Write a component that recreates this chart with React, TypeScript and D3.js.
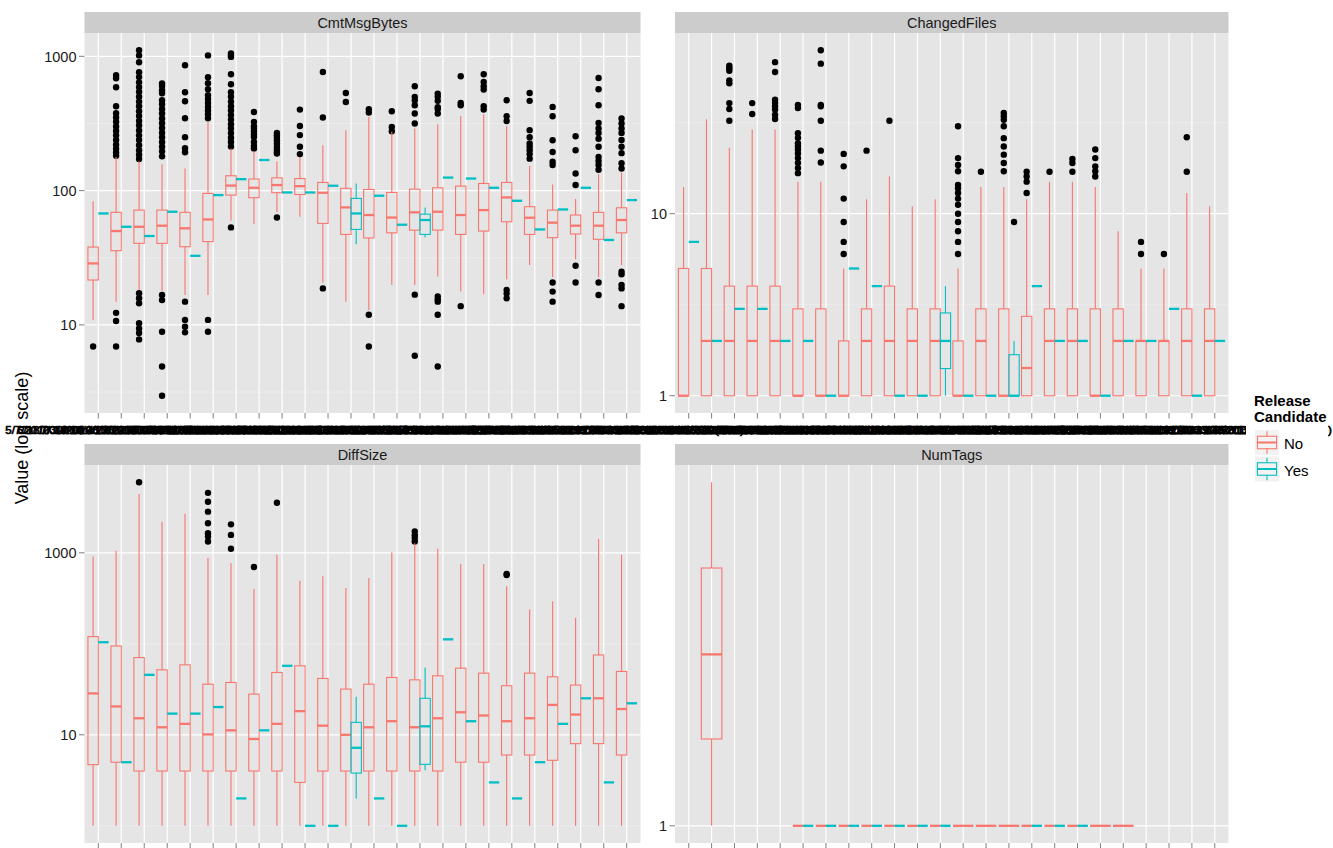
import React from "react";
import * as d3 from "d3";

// x categories (release windows); the labels overlap heavily in the original
const categories = [
  "5/7/2010 14:02 - 6/18/2010 09:41:37",
  "6/18/2010 09:41:37 - 7/30/2010 17:20:05",
  "7/30/2010 17:20:05 - 9/14/2010 11:08:52",
  "9/14/2010 11:08:52 - 10/29/2010 16:45:19",
  "10/29/2010 16:45:19 - 12/10/2010 10:12:44",
  "12/10/2010 10:12:44 - 1/27/2011 15:33:08",
  "1/27/2011 15:33:08 - 3/11/2011 12:01:56",
  "3/11/2011 12:01:56 - 4/22/2011 18:27:30",
  "4/22/2011 18:27:30 - 6/3/2011 09:54:13",
  "6/3/2011 09:54:13 - 7/19/2011 14:16:47",
  "7/19/2011 14:16:47 - 8/30/2011 11:39:02",
  "8/30/2011 11:39:02 - 10/13/2011 16:05:28",
  "10/13/2011 16:05:28 - 11/24/2011 10:48:55",
  "11/24/2011 10:48:55 - 1/10/2012 13:22:41",
  "1/10/2012 13:22:41 - 2/21/2012 17:50:09",
  "2/21/2012 17:50:09 - 4/5/2012 08:36:24",
  "4/5/2012 08:36:24 - 5/17/2012 15:14:58",
  "5/17/2012 15:14:58 - 6/28/2012 12:43:17",
  "6/28/2012 12:43:17 - 8/9/2012 19:07:33",
  "8/9/2012 19:07:33 - 9/25/2012 10:29:46",
  "9/25/2012 10:29:46 - 11/6/2012 14:58:12",
  "11/6/2012 14:58:12 - 12/18/2012 11:31:40",
  "12/18/2012 11:31:40 - 2/5/2013 16:19:03",
  "2/5/2013 16:19:03 - 3/28/2013 13:46:25 (final)",
];

// box stats are [lower whisker, Q1, median, Q3, upper whisker]; a single number = one value
const cmtNo = [
  [10.9, 21.6, 28.7, 38, 83.5], [14.9, 35.7, 50, 68.9, 178], [18.2, 40.5, 53.8, 71.6, 165],
  [18, 40.5, 54.8, 71.6, 157], [16.7, 38.2, 52.4, 68.9, 146], [16.7, 41.7, 61, 95.3, 325],
  [59.7, 92.6, 109, 129, 206], [56.4, 88.5, 105, 122, 197], [68.9, 96.5, 110, 124.5, 165],
  [63.8, 93.5, 108, 123, 178], [20.7, 57, 96.4, 115, 218], [14.9, 47.2, 75, 104, 282],
  [12.9, 44.4, 65.8, 102, 354], [19.8, 48.5, 63, 96.9, 274], [19.8, 50.8, 68.9, 102.6, 290],
  [22.9, 50.8, 69.6, 105, 312], [17.7, 47.2, 65.8, 108, 360], [16.9, 50, 71.6, 113, 368],
  [21.9, 58.6, 89, 115, 302], [27.9, 47.2, 62.8, 75.9, 153], [22.6, 44.6, 57.7, 71.6, 111],
  [30.8, 47.5, 54.8, 65.8, 86.5], [22.6, 43.4, 54.8, 68.9, 133], [27.9, 48.5, 60.4, 74.5, 136],
];
const cmtYes = [
  67.6, 53.8, 45.9, 69.6, 32.7, 92.6, 121.7, 169, 96.9, 96.9, 108.7,
  [39.8, 51.4, 67.6, 87.5, 113], 91.6, 55.7, [44.9, 47.2, 60.4, 66.8, 75],
  125, 123, 105, 84, 51.4, 72.4, 105, 42.9, 85,
];
const cmtNoOut = [
  [6.9],
  [723, 686, 588, 425, 377, 350, 325, 300, 278, 258, 238, 220, 205, 192, 182, 12.3, 10.7, 6.9],
  [1109, 1016, 902, 760, 700, 640, 590, 545, 500, 460, 425, 390, 360, 330, 305, 280, 258, 238, 218, 200, 185, 172, 17.2, 15.8, 14.5, 10.3, 9.4, 8.7, 7.8],
  [627, 600, 560, 531, 471, 440, 405, 375, 345, 318, 293, 270, 250, 230, 212, 196, 180, 16.7, 15.3, 8.9, 4.9, 2.97],
  [857, 540, 463, 346, 250, 207, 193, 14.9, 10.9, 9.7, 8.8],
  [1016, 698, 630, 569, 513, 480, 450, 420, 395, 370, 346, 10.9, 8.9],
  [1052, 1016, 990, 735, 619, 540, 500, 460, 425, 395, 365, 338, 312, 290, 268, 248, 230, 213, 53.2],
  [385, 325, 302, 290, 276, 262, 251, 230, 215, 206],
  [269, 258, 248, 236, 224, 212, 202, 195, 189, 63],
  [401, 303, 259, 212, 187],
  [765, 350, 18.7],
  [533, 457],
  [403, 381, 11.9, 6.9],
  [390, 298, 277],
  [598, 499, 470, 432, 375, 316, 16.8, 5.9],
  [527, 499, 466, 418, 406, 375, 16.3, 15.5, 14.9, 11.9, 4.9],
  [710, 450, 432, 13.8],
  [735, 645, 598, 565, 425, 401],
  [471, 358, 330, 18.2, 17.1, 15.8],
  [533, 466, 282, 250, 224, 212, 200, 187, 173],
  [420, 358, 237, 194, 164, 155, 20.7, 17.7, 14.9],
  [254, 200, 134, 110, 27.6, 20.7],
  [690, 569, 432, 319, 290, 269, 243, 212, 178, 166, 155, 143, 20.7, 16.7],
  [344, 316, 290, 269, 238, 212, 190, 160, 146, 24.9, 23.8, 19.8, 18.7, 13.8],
];
const cmtYesOut = categories.map(() => []);

const filesNo = [
  [1, 1, 1, 5, 14], [1, 1, 2, 5, 33], [1, 1, 2, 4, 23], [1, 1, 2, 4, 29], [1, 1, 2, 4, 29],
  [1, 1, 1, 3, 15], [1, 1, 1, 3, 15], [1, 1, 1, 2, 5], [1, 1, 2, 3, 12], [1, 1, 2, 4, 16],
  [1, 1, 2, 3, 11], [1, 1, 2, 3, 12], [1, 1, 1, 2, 5], [1, 1, 2, 3, 14], [1, 1, 1, 3, 14],
  [1, 1, 1.42, 2.73, 12], [1, 1, 2, 3, 15], [1, 1, 2, 3, 15], [1, 1, 1, 3, 14], [1, 1, 2, 3, 8],
  [1, 1, 2, 2, 5], [1, 1, 2, 2, 5], [1, 1, 2, 3, 13], [1, 1, 2, 3, 11],
];
const filesYes = [
  7, 2, 3, 3, 2, 2, 1, 5, 4, 1, 1, [1, 1.41, 2, 2.85, 4], 1, 1, [1, 1, 1, 1.68, 2],
  4, 2, 2, 1, 2, 2, 3, 1, 2,
];
const filesNoOut = [
  [], [], [65, 63, 61, 54, 52, 40.5, 37.6, 32.4], [40.5, 35.3],
  [68, 60, 42.3, 40.5, 38.9, 37.3, 35, 33.1],
  [39.6, 38.1, 27.7, 26.1, 24.4, 23.4, 22.5, 21.4, 20.2, 19, 17.8, 16.7],
  [79, 66.7, 39.6, 38.9, 32.4, 22.2, 19.1], [21.3, 18.2, 12.1, 9, 7, 6], [22.2], [32.4], [], [],
  [30.2, 20.2, 18.5, 17.1, 14.4, 13.8, 13, 12.1, 11.2, 10, 9, 8, 7, 6], [17],
  [35.7, 34.3, 32.8, 30.2, 26, 23.4, 21.1, 19, 17.1], [17, 16, 15, 13], [17], [20, 19, 17],
  [22.5, 20.2, 18.2, 17.1, 16], [], [7, 6], [6], [26.3, 17], [],
];
const filesYesOut = [
  [], [], [], [], [], [], [], [], [], [], [], [], [], [], [9], [], [], [], [], [], [], [], [], [],
];

const diffNo = [
  [1, 4.7, 28.5, 120, 912], [1, 5, 20.5, 94.6, 1052], [1, 4, 15.2, 70.6, 4416], [1, 4, 12.1, 51.8, 2198],
  [1, 4, 13.2, 58.7, 2690], [1, 4, 10.1, 36, 875], [1, 4, 11.2, 37.6, 771], [1, 4, 9, 28, 401],
  [1, 4, 13.2, 48.4, 951], [1, 3, 18.2, 57.3, 494], [1, 4, 12.6, 41.6, 551], [1, 4, 10, 31.8, 411],
  [1, 4, 12.1, 36, 529], [1, 4, 14.1, 42.7, 1016], [1, 4, 12.1, 40.2, 1276], [1, 4, 15.2, 44.5, 1107],
  [1, 5, 17.7, 54, 752], [1, 5, 16.3, 47.6, 752], [1, 6, 14.1, 34.6, 429], [1, 6, 15.2, 47.6, 238],
  [1, 5.25, 21.3, 43.4, 294], [1, 8, 16.7, 35.2, 193], [1, 8, 25.2, 75.5, 1422], [1, 6, 19.2, 49.7, 951],
];
const diffYes = [
  104, 5, 45.6, 17.1, 17.1, 20.2, 2, 11.2, 57.3, 1, 1, [2, 3.8, 7.2, 13.7, 26.2], 2, 1,
  [4.07, 4.74, 12.4, 25.2, 55], 112, 14.1, 3, 2, 5, 13.2, 25.2, 3, 22.2,
];
const diffNoOut = [
  [], [], [5970], [], [], [4560, 3637, 2831, 2110, 1640, 1508, 1330], [2055, 1573, 1107], [697],
  [3548], [], [], [], [], [], [1711, 1560, 1450, 1330], [], [], [], [585, 570], [], [], [], [], [],
];
const diffYesOut = categories.map(() => []);

const tagsNo = [
  null, [1, 1.32, 1.73, 2.28, 3], null, null, null, 1, 1, 1, 1, 1, 1, 1, 1, 1, 1,
  1, 1, 1, 1, 1, null, null, null, null,
];
const tagsYes = [
  null, null, null, null, null, 1, 1, 1, 1, 1, 1, 1, null, null, null,
  1, 1, 1, null, null, null, null, null, null,
];
const tagsOut = categories.map(() => []);

// y breaks per panel (ggplot log10 breaks, minor halfway in log space)
const cmtMajor = [10, 100, 1000];
const cmtMinor = [3.162, 31.62, 316.2];
const filesMajor = [1, 10];
const filesMinor = [3.162, 31.62];
const diffMajor = [10, 1000];
const diffMinor = [1, 100];
const tagsMajor = [1];
const tagsMinor: number[] = [];

const groups = ["No", "Yes"];
const colors = ["#F8766D", "#00BFC4"];

const panels = [
  { name: "CmtMsgBytes", no: cmtNo, yes: cmtYes, noOut: cmtNoOut, yesOut: cmtYesOut, major: cmtMajor, minor: cmtMinor, col: 0, row: 0 },
  { name: "ChangedFiles", no: filesNo, yes: filesYes, noOut: filesNoOut, yesOut: filesYesOut, major: filesMajor, minor: filesMinor, col: 1, row: 0 },
  { name: "DiffSize", no: diffNo, yes: diffYes, noOut: diffNoOut, yesOut: diffYesOut, major: diffMajor, minor: diffMinor, col: 0, row: 1 },
  { name: "NumTags", no: tagsNo, yes: tagsYes, noOut: tagsOut, yesOut: tagsOut, major: tagsMajor, minor: tagsMinor, col: 1, row: 1 },
];

const W = 1333, H = 848;
const cols = [[84.5, 640.5], [675, 1228.5]];
const rows = [[33, 413], [465, 843]];
const STRIP = 21;
const TICK = 5.5;
const FONT = "'Liberation Sans', Arial, Helvetica, sans-serif";

const five = (s: any) => (typeof s === "number" ? [s, s, s, s, s] : s);

const Box = ({ x0, x1, s, color, y }: any) => {
  const [lo, q1, med, q3, hi] = s;
  const xm = (x0 + x1) / 2;
  return (
    <g stroke={color} fill="none">
      <line x1={xm} x2={xm} y1={y(hi)} y2={y(q3)} strokeWidth={1.1} />
      <line x1={xm} x2={xm} y1={y(q1)} y2={y(lo)} strokeWidth={1.1} />
      <rect x={x0} y={y(q3)} width={x1 - x0} height={Math.max(0, y(q1) - y(q3))} strokeWidth={1.1} />
      <line x1={x0} x2={x1} y1={y(med)} y2={y(med)} strokeWidth={2.3} />
    </g>
  );
};

function Panel({ p }: any) {
  const [xa, xb] = cols[p.col];
  const [ya, yb] = rows[p.row];
  const x = d3.scalePoint<number>().domain(d3.range(categories.length)).range([xa, xb]).padding(0.6);
  const step = x.step();

  const vals: number[] = [];
  [p.no, p.yes].forEach((arr: any[]) => arr.forEach((s) => s != null && vals.push(...five(s))));
  [p.noOut, p.yesOut].forEach((arr: any[]) => arr.forEach((o) => vals.push(...o)));
  const [mn, mx] = d3.extent(vals.map(Math.log10)) as [number, number];
  const pad = (mx - mn) * 0.05;
  const y = d3.scaleLog().domain([10 ** (mn - pad), 10 ** (mx + pad)]).range([yb, ya]);
  const [dlo, dhi] = y.domain();
  const inside = (v: number) => v >= dlo && v <= dhi;

  const boxes: any[] = [];
  categories.forEach((_, i) => {
    const cx = x(i) as number;
    const both = p.no[i] != null && p.yes[i] != null;
    [0, 1].forEach((g) => {
      const s = g === 0 ? p.no[i] : p.yes[i];
      if (s == null) return;
      const half = step * 0.45;
      const x0 = both ? (g === 0 ? cx - half : cx) : cx - half;
      const x1 = both ? (g === 0 ? cx : cx + half) : cx + half;
      const outs = g === 0 ? p.noOut[i] : p.yesOut[i];
      boxes.push(
        <g key={`${i}-${g}`}>
          {outs.map((v: number, k: number) => (
            <circle key={k} cx={(x0 + x1) / 2} cy={y(v)} r={3.2} fill="#000" />
          ))}
          <Box x0={x0} x1={x1} s={five(s)} color={colors[g]} y={y} />
        </g>
      );
    });
  });

  return (
    <g>
      <rect x={xa} y={ya - STRIP} width={xb - xa} height={STRIP} fill="#CCCCCC" />
      <text x={(xa + xb) / 2} y={ya - 5.5} textAnchor="middle" fontSize={14.5} fill="#1a1a1a">
        {p.name}
      </text>
      <rect x={xa} y={ya} width={xb - xa} height={yb - ya} fill="#E5E5E5" />
      {p.minor.filter(inside).map((v: number) => (
        <line key={"mi" + v} x1={xa} x2={xb} y1={y(v)} y2={y(v)} stroke="#F2F2F2" strokeWidth={0.6} />
      ))}
      {p.major.filter(inside).map((v: number) => (
        <line key={"ma" + v} x1={xa} x2={xb} y1={y(v)} y2={y(v)} stroke="#fff" strokeWidth={1.2} />
      ))}
      {categories.map((_, i) => (
        <line key={"v" + i} x1={x(i)} x2={x(i)} y1={ya} y2={yb} stroke="#fff" strokeWidth={1.2} />
      ))}
      {boxes}
      {p.major.filter(inside).map((v: number) => (
        <g key={"yt" + v}>
          <line x1={xa - TICK} x2={xa} y1={y(v)} y2={y(v)} stroke="#7F7F7F" strokeWidth={1} />
          <text x={xa - TICK - 2.5} y={y(v)} dy="0.36em" textAnchor="end" fontSize={14.5} fill="#1a1a1a">
            {String(v)}
          </text>
        </g>
      ))}
      {categories.map((_, i) => (
        <line key={"xt" + i} x1={x(i)} x2={x(i)} y1={yb} y2={yb + TICK} stroke="#7F7F7F" strokeWidth={1} />
      ))}
    </g>
  );
}

// category labels under the top row (the bottom row's fall below the picture edge)
function XLabels({ p }: any) {
  const [xa, xb] = cols[p.col];
  const yb = rows[p.row][1];
  const x = d3.scalePoint<number>().domain(d3.range(categories.length)).range([xa, xb]).padding(0.6);
  return (
    <g>
      {categories.map((c, i) => (
        <text
          key={i}
          x={x(i)}
          y={yb + 21}
          textAnchor="middle"
          fontSize={11.5}
          fill="#000"
          stroke="#000"
          strokeWidth={0.7}
        >
          {c}
        </text>
      ))}
    </g>
  );
}

function Legend() {
  const kx = 1255, kw = 24, kh = 25;
  return (
    <g>
      <rect x={1246} y={386} width={82} height={100} fill="#fff" />
      <text x={1254} y={406} fontSize={15} fontWeight="bold" fill="#000">Release</text>
      <text x={1254} y={421.5} fontSize={15} fontWeight="bold" fill="#000">Candidate</text>
      {groups.map((g, i) => {
        const ky = 430 + i * 26.5;
        const xm = kx + kw / 2;
        return (
          <g key={g}>
            <rect x={kx} y={ky} width={kw} height={kh} fill="#F2F2F2" />
            <g stroke={colors[i]} fill="none">
              <line x1={xm} x2={xm} y1={ky + kh * 0.05} y2={ky + kh * 0.25} strokeWidth={1.1} />
              <line x1={xm} x2={xm} y1={ky + kh * 0.75} y2={ky + kh * 0.95} strokeWidth={1.1} />
              <rect x={kx + kw * 0.1} y={ky + kh * 0.25} width={kw * 0.8} height={kh * 0.5} strokeWidth={1.1} />
              <line x1={kx + kw * 0.1} x2={kx + kw * 0.9} y1={ky + kh / 2} y2={ky + kh / 2} strokeWidth={2} />
            </g>
            <text x={kx + kw + 5} y={ky + 19} fontSize={15} fill="#000">{g}</text>
          </g>
        );
      })}
    </g>
  );
}

export default function App() {
  return (
    <svg
      width={W}
      height={H}
      viewBox={`0 0 ${W} ${H}`}
      style={{ position: "absolute", left: 0, top: 0, fontFamily: FONT }}
    >
      <rect width={W} height={H} fill="#fff" />
      {panels.map((p) => (
        <Panel key={p.name} p={p} />
      ))}
      <text transform="translate(28,438) rotate(-90)" textAnchor="middle" fontSize={18} fill="#000">
        Value (log scale)
      </text>
      {panels.filter((p) => p.row === 0).map((p) => (
        <XLabels key={"xl" + p.name} p={p} />
      ))}
      <Legend />
    </svg>
  );
}
